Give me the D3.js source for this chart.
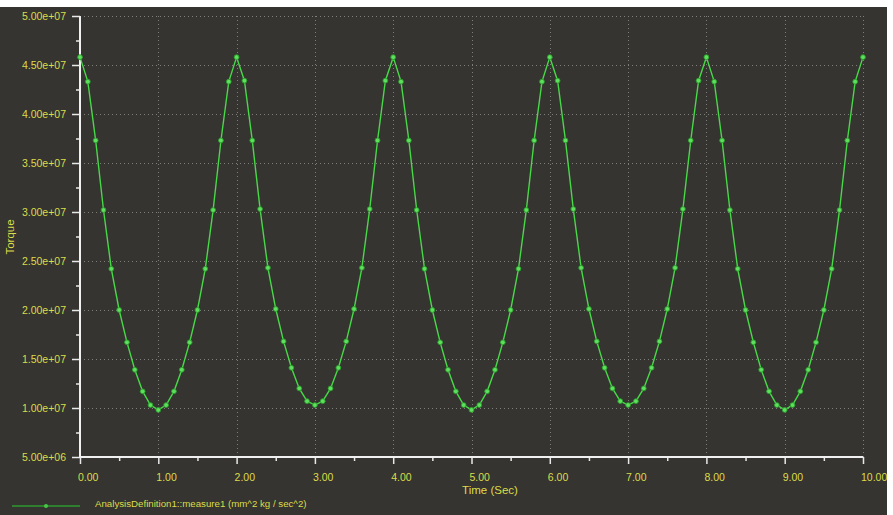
<!DOCTYPE html>
<html>
<head>
<meta charset="utf-8">
<script src="https://cdn.jsdelivr.net/npm/d3@7"></script>
<style>
  body { margin: 0; background: #fff; }
  svg { display: block; }
  text { font-family: "Liberation Sans", Arial, sans-serif; }
</style>
</head>
<body>
<svg id="chart" width="893" height="515"></svg>
<script>
// sample times, every 0.1 s
const times = d3.range(0, 101).map(i => i / 10);

// torque in units of 1e7
const cycleDownA = [4.58, 4.33, 3.73, 3.02, 2.42, 2.00, 1.67, 1.39, 1.17, 1.03];
const troughA = [0.98];
const cycleUpA = [1.03, 1.17, 1.39, 1.67, 2.00, 2.42, 3.02, 3.73, 4.33];
const cycleDownB = [4.58, 4.34, 3.73, 3.03, 2.43, 2.01, 1.68, 1.41, 1.20, 1.07];
const troughB = [1.03];
const cycleUpB = [1.07, 1.20, 1.41, 1.68, 2.01, 2.43, 3.03, 3.73, 4.34];
const torque = [].concat(
  cycleDownA, troughA, cycleUpA,
  cycleDownB, troughB, cycleUpB,
  cycleDownA, troughA, cycleUpA,
  cycleDownB, troughB, cycleUpB,
  cycleDownA, troughA, cycleUpA,
  [4.58]
).map(v => v * 1e7);

const xTicks = d3.range(0, 11);
const yTicks = d3.range(5e6, 5.01e7, 5e6);
const xTitle = "Time (Sec)";
const yTitle = "Torque";
const legendLabel = "AnalysisDefinition1::measure1 (mm^2 kg / sec^2)";

const data = times.map((t, i) => ({ t, v: torque[i] }));

const svg = d3.select("#chart");
const yellow = "#dcdc48";
const green = "#48d848";

svg.append("rect")
  .attr("x", 0).attr("y", 7)
  .attr("width", 887).attr("height", 508)
  .attr("fill", "#353431");

const x = d3.scaleLinear().domain([0, 10]).range([80, 863]);
const y = d3.scaleLinear().domain([5e6, 5e7]).range([457, 16]);

// grid
const grid = svg.append("g")
  .attr("stroke", "#7e7e7a")
  .attr("stroke-width", 1)
  .attr("stroke-dasharray", "1,3");
grid.selectAll("line.v")
  .data(xTicks.filter(d => d > 0))
  .join("line")
  .attr("class", "v")
  .attr("x1", d => Math.round(x(d)) + 0.5).attr("x2", d => Math.round(x(d)) + 0.5)
  .attr("y1", y(5e7)).attr("y2", y(5e6));
grid.selectAll("line.h")
  .data(yTicks.filter(d => d > 5e6))
  .join("line")
  .attr("class", "h")
  .attr("y1", d => Math.round(y(d)) + 0.5).attr("y2", d => Math.round(y(d)) + 0.5)
  .attr("x1", x(0)).attr("x2", x(10));

// axes
svg.append("g")
  .attr("transform", `translate(${x(0)},0)`)
  .call(d3.axisLeft(y).tickValues(yTicks).tickSize(8).tickFormat(""))
  .call(g => g.select(".domain").remove());
svg.append("g")
  .attr("transform", `translate(${x(0)},0)`)
  .call(d3.axisLeft(y).tickValues(yTicks.slice(0, -1).map(d => d + 2.5e6)).tickSize(4).tickFormat(""))
  .call(g => g.select(".domain").remove());
svg.append("g")
  .attr("transform", `translate(0,${y(5e6)})`)
  .call(d3.axisBottom(x).tickValues(xTicks).tickSize(7).tickFormat(""))
  .call(g => g.select(".domain").remove());
svg.append("g")
  .attr("transform", `translate(0,${y(5e6)})`)
  .call(d3.axisBottom(x).tickValues(xTicks.slice(0, -1).map(d => d + 0.5)).tickSize(4).tickFormat(""))
  .call(g => g.select(".domain").remove());
svg.selectAll(".tick line").attr("stroke", "#e8e8e8").attr("stroke-width", 1.5);

svg.append("line")
  .attr("x1", x(0)).attr("x2", x(0))
  .attr("y1", y(5e7)).attr("y2", y(5e6) + 1)
  .attr("stroke", "#f0f0f0").attr("stroke-width", 2);
svg.append("line")
  .attr("x1", x(0) - 1).attr("x2", x(10))
  .attr("y1", y(5e6)).attr("y2", y(5e6))
  .attr("stroke", "#f0f0f0").attr("stroke-width", 2);

// tick labels
svg.append("g")
  .selectAll("text")
  .data(yTicks)
  .join("text")
  .attr("x", 66)
  .attr("y", d => y(d) + 4)
  .attr("text-anchor", "end")
  .attr("font-size", 10.5)
  .attr("fill", yellow)
  .text(d => d3.format(".2e")(d).replace("e+", "e+0").replace(/e\+0(\d\d)/, "e+$1"));

svg.append("g")
  .selectAll("text")
  .data(xTicks)
  .join("text")
  .attr("x", d => x(d) - 2)
  .attr("y", 481)
  .attr("font-size", 10.5)
  .attr("fill", yellow)
  .text(d3.format(".2f"));

svg.append("text")
  .attr("x", 490).attr("y", 494)
  .attr("text-anchor", "middle")
  .attr("font-size", 11.5)
  .attr("fill", yellow)
  .text(xTitle);

svg.append("text")
  .attr("transform", `translate(14,237) rotate(-90)`)
  .attr("text-anchor", "middle")
  .attr("font-size", 11.5)
  .attr("fill", yellow)
  .text(yTitle);

// series
const line = d3.line().x(d => x(d.t)).y(d => y(d.v));
svg.append("path")
  .datum(data)
  .attr("fill", "none")
  .attr("stroke", green)
  .attr("stroke-width", 1.4)
  .attr("d", line);
svg.append("g")
  .selectAll("circle")
  .data(data)
  .join("circle")
  .attr("cx", d => x(d.t))
  .attr("cy", d => y(d.v))
  .attr("r", 2.4)
  .attr("fill", "#5ee05e")
  .attr("stroke", "#2a9e2a")
  .attr("stroke-width", 0.9);

// legend
svg.append("line")
  .attr("x1", 12).attr("x2", 80)
  .attr("y1", 506).attr("y2", 506)
  .attr("stroke", "#2e9a2e").attr("stroke-width", 1.5);
svg.append("circle")
  .attr("cx", 46).attr("cy", 506).attr("r", 2)
  .attr("fill", "#46c846");
svg.append("text")
  .attr("x", 95).attr("y", 507)
  .attr("font-size", 9.7)
  .attr("fill", yellow)
  .text(legendLabel);
</script>
</body>
</html>
